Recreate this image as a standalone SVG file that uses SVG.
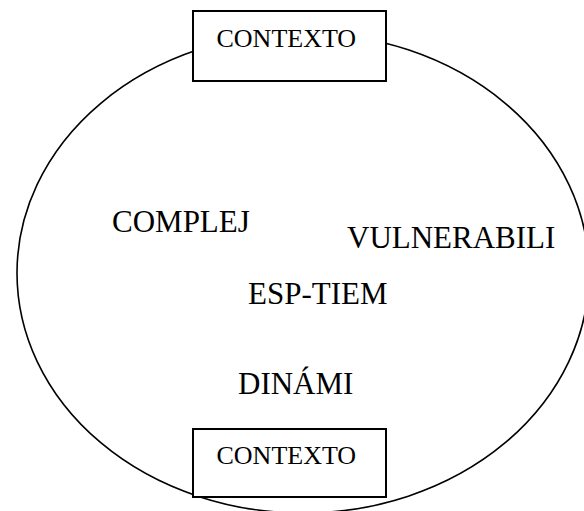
<svg xmlns="http://www.w3.org/2000/svg" width="584" height="511" viewBox="0 0 584 511">
<style>
.ring{fill:none;stroke:#000;stroke-width:1.6}
.box{fill:#fff;stroke:#000;stroke-width:2}
.t{font-family:"Liberation Serif","Times New Roman",serif;fill:#000}
.sm{font-size:26px}
.lg{font-size:31px}
</style>
<rect width="584" height="511" fill="#fff"/>
<g id="connectors"></g>
<g id="ellipse">
<ellipse class="ring" cx="303" cy="273" rx="286" ry="240"/>
</g>
<g id="contexto-top">
<rect class="box" x="193" y="11" width="193" height="70"/>
<text class="t sm" x="216.5" y="46.5">CONTEXTO</text>
</g>
<g id="contexto-bottom">
<rect class="box" x="193" y="429" width="193" height="68"/>
<text class="t sm" x="216.5" y="464.3">CONTEXTO</text>
</g>
<g id="complej"><text class="t lg" x="112" y="232">COMPLEJ</text></g>
<g id="vulnerabili"><text class="t lg" x="347" y="248">VULNERABILI</text></g>
<g id="esp-tiem"><text class="t lg" x="248" y="304">ESP-TIEM</text></g>
<g id="dinami"><text class="t lg" x="238" y="394">DINÁMI</text></g>
</svg>
